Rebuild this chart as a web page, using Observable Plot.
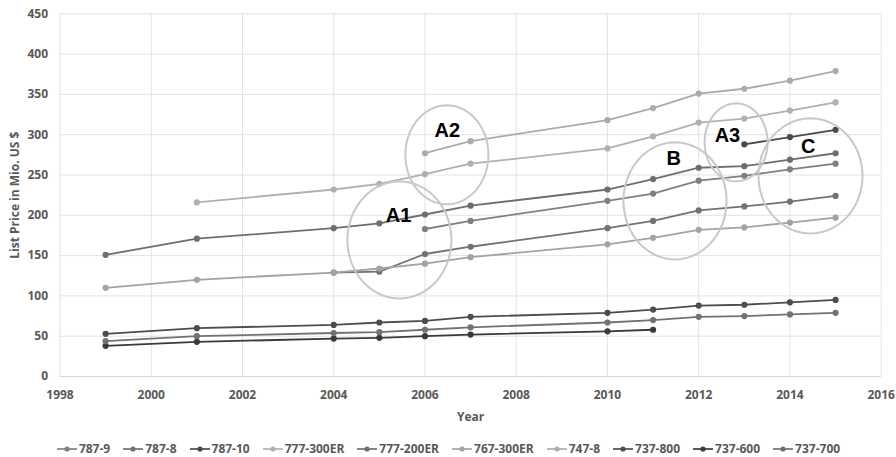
<!DOCTYPE html>
<html>
<head>
<meta charset="utf-8">
<script src="https://cdn.jsdelivr.net/npm/d3@7"></script>
<script src="https://cdn.jsdelivr.net/npm/@observablehq/plot@0.6"></script>
<style>
  body { margin: 0; background: #fff; }
  #chart { width: 896px; }
  .legend { display: flex; justify-content: center; align-items: center; font-family: "Open Sans", sans-serif; font-weight: bold; font-size: 12px; color: #595959; margin-top: 10px; padding-left: 14px; }
  .legend .item { display: flex; align-items: center; margin-right: 13px; }
  .legend svg { margin-right: 2px; }
</style>
</head>
<body>
<div id="chart"></div>
<script>
const years = [1999, 2001, 2004, 2005, 2006, 2007, 2010, 2011, 2012, 2013, 2014, 2015];
const models = ["787-9", "787-8", "787-10", "777-300ER", "777-200ER", "767-300ER", "747-8", "737-800", "737-600", "737-700"];
const colors = ["#808080", "#727272", "#4a4a4a", "#b0b0b0", "#6e6e6e", "#a3a3a3", "#ababab", "#4d4d4d", "#3a3a3a", "#727272"];

const s787_9     = [null, null, null, null, 183, 193, 218, 227, 243, 249, 257, 264];
const s787_8     = [null, null, 129, 130, 152, 161, 184, 193, 206, 211, 217, 224];
const s787_10    = [null, null, null, null, null, null, null, null, null, 288, 297, 306];
const s777_300ER = [null, 216, 232, 239, 251, 264, 283, 298, 315, 320, 330, 340];
const s777_200ER = [151, 171, 184, 190, 201, 212, 232, 245, 259, 261, 269, 277];
const s767_300ER = [110, 120, 129, 134, 140, 148, 164, 172, 182, 185, 191, 197];
const s747_8     = [null, null, null, null, 277, 292, 318, 333, 351, 357, 367, 379];
const s737_800   = [53, 60, 64, 67, 69, 74, 79, 83, 88, 89, 92, 95];
const s737_600   = [38, 43, 47, 48, 50, 52, 56, 58, null, null, null, null];
const s737_700   = [44, 50, 54, 55, 58, 61, 67, 70, 74, 75, 77, 79];
const seriesValues = [s787_9, s787_8, s787_10, s777_300ER, s777_200ER, s767_300ER, s747_8, s737_800, s737_600, s737_700];

const xTicks = [1998, 2000, 2002, 2004, 2006, 2008, 2010, 2012, 2014, 2016];
const yTicks = [0, 50, 100, 150, 200, 250, 300, 350, 400, 450];

// annotation ellipses (centre, radii in data units) and labels
const annotNames = ["A1", "A2", "A3", "B", "C"];
const annotCx = [2005.44, 2006.48, 2012.82, 2011.48, 2014.45];
const annotCy = [169.4, 275.0, 290.5, 217.9, 248.9];
const annotRx = [1.14, 0.91, 0.69, 1.13, 1.14];
const annotRy = [72.6, 61.4, 48.4, 72.6, 71.4];
const labelX = [2005.42, 2006.49, 2012.63, 2011.45, 2014.40];
const labelY = [200.0, 305.4, 299.2, 270.6, 285.5];

const data = [];
models.forEach((m, i) => {
  seriesValues[i].forEach((v, j) => {
    if (v != null) data.push({model: m, year: years[j], price: v});
  });
});

const ellipsePts = [];
annotNames.forEach((n, i) => {
  for (let k = 0; k < 96; k++) {
    const t = (k / 96) * 2 * Math.PI;
    ellipsePts.push({name: n, x: annotCx[i] + annotRx[i] * Math.cos(t), y: annotCy[i] + annotRy[i] * Math.sin(t)});
  }
});
const labels = annotNames.map((n, i) => ({name: n, x: labelX[i], y: labelY[i]}));

const plot = Plot.plot({
  width: 896,
  height: 430,
  marginLeft: 59.5,
  marginRight: 15.3,
  marginTop: 13.3,
  marginBottom: 54,
  style: {fontFamily: "'Open Sans', sans-serif", fontSize: "12px", background: "white"},
  x: {domain: [1998, 2016]},
  y: {domain: [0, 450]},
  color: {domain: models, range: colors},
  marks: [
    Plot.gridX(xTicks, {stroke: "#e3e3e3", strokeOpacity: 1}),
    Plot.gridY(yTicks, {stroke: "#e3e3e3", strokeOpacity: 1}),
    Plot.ruleY([0], {stroke: "#d6d6d6"}),
    Plot.axisX({ticks: xTicks, tickFormat: d => String(d), tickSize: 0, tickPadding: 14, fill: "#595959", fontWeight: "bold", label: "Year", labelAnchor: "center", labelArrow: "none", labelOffset: 44}),
    Plot.axisY({ticks: yTicks, tickSize: 0, tickPadding: 12, fill: "#595959", fontWeight: "bold", label: "List Price in Mio. US $", labelAnchor: "center", labelArrow: "none", labelOffset: 50}),
    Plot.line(data, {x: "year", y: "price", z: "model", stroke: "model", strokeWidth: 1.8}),
    Plot.dot(data, {x: "year", y: "price", fill: "model", r: 3.1}),
    Plot.line(ellipsePts, {x: "x", y: "y", z: "name", curve: "linear-closed", stroke: "#c8c8c8", strokeWidth: 2, fill: "none"}),
    Plot.text(labels, {x: "x", y: "y", text: "name", fill: "black", fontSize: 20, fontWeight: "bold", fontFamily: "'Liberation Sans', Arial, sans-serif"})
  ]
});

plot.querySelectorAll('g[aria-label$="axis label"] text, g[aria-label$="axis label"]').forEach(el => {
  el.setAttribute("font-weight", "bold");
  el.setAttribute("fill", "#595959");
});

document.getElementById("chart").appendChild(plot);

const legend = document.createElement("div");
legend.className = "legend";
models.forEach((m, i) => {
  const item = document.createElement("div");
  item.className = "item";
  item.innerHTML = `<svg width="20" height="10"><line x1="0" y1="5" x2="20" y2="5" stroke="${colors[i]}" stroke-width="1.7"/><circle cx="10" cy="5" r="2.6" fill="${colors[i]}"/></svg><span>${m}</span>`;
  legend.appendChild(item);
});
document.getElementById("chart").appendChild(legend);
</script>
</body>
</html>
